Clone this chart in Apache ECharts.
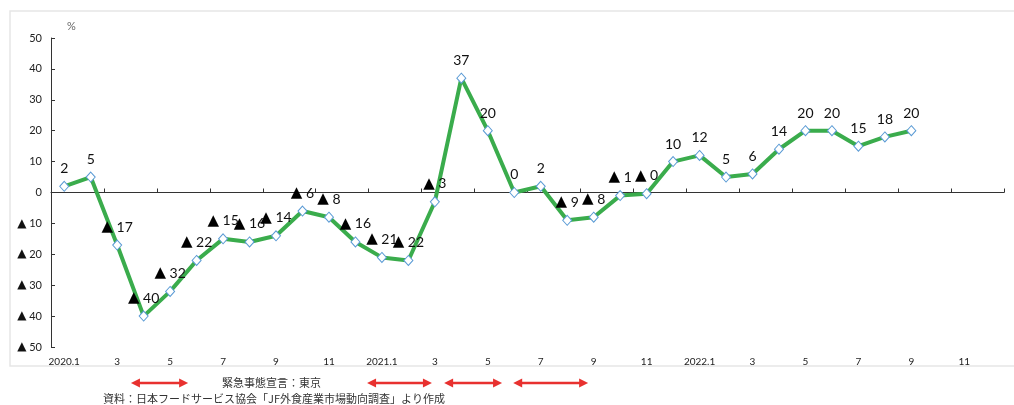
<!DOCTYPE html>
<html>
<head>
<meta charset="utf-8">
<script src="https://cdn.jsdelivr.net/npm/echarts@6/dist/echarts.min.js"></script>
<style>
  html, body { margin: 0; padding: 0; background: #fff; }
  #chart { width: 1014px; height: 405px; }
</style>
</head>
<body>
<div id="chart"></div>
<script>
// Months from 2020.1 through 2022.12 (axis runs to year end)
const months = [
  '2020.1', '2', '3', '4', '5', '6', '7', '8', '9', '10', '11', '12',
  '2021.1', '2', '3', '4', '5', '6', '7', '8', '9', '10', '11', '12',
  '2022.1', '2', '3', '4', '5', '6', '7', '8', '9', '10', '11', '12'
];

// Year-on-year change of restaurant sales (%), 2020.1 – 2022.9
const salesChange = [
  2, 5, -17, -40, -32, -22, -15, -16, -14, -6, -8, -16,
  -21, -22, -3, 37, 20, 0, 2, -9, -8, -1, -0.4, 10,
  12, 5, 6, 14, 20, 20, 15, 18, 20
];

// Tokyo state-of-emergency periods, in month-index units (0 = 2020.1)
const emergencyPeriods = [
  [2.52, 4.68],
  [11.44, 13.89],
  [14.35, 16.54],
  [16.96, 19.79]
];

const emergencyNote = '緊急事態宣言：東京';
const sourceNote = '資料：日本フードサービス協会「JF外食産業市場動向調査」より作成';

const FONT = "Lato, 'Noto Sans CJK JP', sans-serif";
// negative values are written with a black triangle instead of a minus sign
const fmtSigned = v => (v < 0 ? '{t|▲} ' + Math.round(-v) : String(Math.round(v)));

const chart = echarts.init(document.getElementById('chart'), null, { renderer: 'canvas' });

const option = {
  animation: false,
  backgroundColor: '#ffffff',
  textStyle: { fontFamily: FONT },
  grid: { left: 51, right: 10, top: 38, bottom: 58, containLabel: false },
  xAxis: [
    {
      type: 'category',
      data: months,
      boundaryGap: true,
      axisLine: { onZero: true, lineStyle: { color: '#333', width: 1 } },
      axisTick: { show: true, inside: true, length: 4, alignWithLabel: false, lineStyle: { color: '#333' } },
      axisLabel: { interval: 1, margin: 10, fontSize: 10, color: '#222', fontFamily: FONT },
      splitLine: { show: false }
    },
    {
      // helper scale spanning the same month slots, used for the arrows below the plot
      type: 'value',
      min: -0.5,
      max: months.length - 0.5,
      show: false
    }
  ],
  yAxis: {
    type: 'value',
    min: -50,
    max: 50,
    interval: 10,
    name: '%',
    nameLocation: 'end',
    nameGap: 6,
    nameTextStyle: { color: '#666', fontSize: 11, align: 'left', padding: [0, 0, 0, 16], fontFamily: FONT },
    axisLine: { show: true, onZero: false, lineStyle: { color: '#333', width: 1 } },
    axisTick: { show: true, inside: true, length: 4, lineStyle: { color: '#333' } },
    axisLabel: {
      margin: 9, fontSize: 11, color: '#222', fontFamily: FONT,
      formatter: v => fmtSigned(v),
      rich: { t: { fontFamily: "'DejaVu Sans', sans-serif", fontSize: 12, color: '#111' } }
    },
    splitLine: { show: false }
  },
  series: [
    {
      type: 'line',
      data: salesChange,
      xAxisIndex: 0,
      symbol: 'diamond',
      symbolSize: [9, 10],
      showAllSymbol: true,
      lineStyle: { color: '#3aac4c', width: 4 },
      itemStyle: { color: '#ffffff', borderColor: '#5b9bd5', borderWidth: 1 },
      label: {
        show: true,
        position: 'top',
        distance: 5,
        fontSize: 14,
        color: '#111',
        fontFamily: FONT,
        formatter: p => fmtSigned(p.value),
        rich: { t: { fontFamily: "'DejaVu Sans', sans-serif", fontSize: 15, color: '#000' } }
      },
      z: 3
    }
  ]
};

chart.setOption(option);

// Frame, notes and emergency-period arrows
function buildGraphics() {
  const g = [];
  g.push({
    type: 'rect', id: 'frame', silent: true, z: -1,
    shape: { x: 10, y: 11, width: 1014, height: 355 },
    style: { fill: 'none', stroke: '#e6e6e6', lineWidth: 1.5 }
  });
  const arrowY = 383;
  const red = '#e8312f';
  emergencyPeriods.forEach((p, i) => {
    const x1 = chart.convertToPixel({ xAxisIndex: 1 }, p[0]);
    const x2 = chart.convertToPixel({ xAxisIndex: 1 }, p[1]);
    g.push({
      type: 'line', id: 'arrowLine' + i, silent: true,
      shape: { x1: x1 + 5, y1: arrowY, x2: x2 - 5, y2: arrowY },
      style: { stroke: red, lineWidth: 2.5 }
    });
    g.push({
      type: 'polygon', id: 'arrowL' + i, silent: true,
      shape: { points: [[x1, arrowY], [x1 + 9, arrowY - 4.5], [x1 + 9, arrowY + 4.5]] },
      style: { fill: red }
    });
    g.push({
      type: 'polygon', id: 'arrowR' + i, silent: true,
      shape: { points: [[x2, arrowY], [x2 - 9, arrowY - 4.5], [x2 - 9, arrowY + 4.5]] },
      style: { fill: red }
    });
  });
  g.push({
    type: 'text', id: 'emergencyNote', silent: true,
    style: { text: emergencyNote, x: 222, y: 383, fill: '#333', fontSize: 11, fontFamily: "'Noto Sans CJK JP', sans-serif", verticalAlign: 'middle', align: 'left' }
  });
  g.push({
    type: 'text', id: 'sourceNote', silent: true,
    style: { text: sourceNote, x: 103, y: 399, fill: '#333', fontSize: 11, fontFamily: "'Noto Sans CJK JP', sans-serif", verticalAlign: 'middle', align: 'left' }
  });
  return g;
}

chart.setOption({ graphic: buildGraphics() });
</script>
</body>
</html>
